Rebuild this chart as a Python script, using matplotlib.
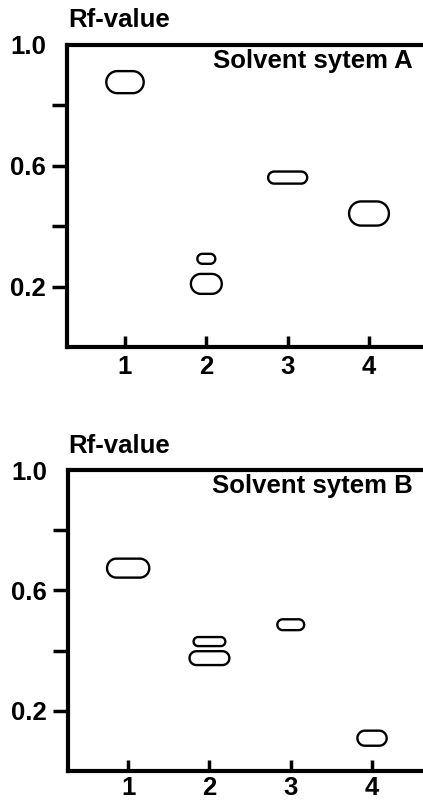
import matplotlib
matplotlib.use('Agg')
import numpy as np
import matplotlib.pyplot as plt
from matplotlib.patches import Polygon

plt.rcParams['font.family'] = ['Liberation Sans', 'DejaVu Sans']
plt.rcParams['font.weight'] = 'bold'

# lane number, Rf value, spot width (lane units), spot height (Rf units)
lanes_a = [1, 2, 2, 3, 4]
rf_a = [0.877, 0.292, 0.209, 0.561, 0.442]
spot_w_a = [0.46, 0.22, 0.38, 0.48, 0.49]
spot_h_a = [0.073, 0.033, 0.066, 0.040, 0.080]

lanes_b = [1, 2, 2, 3, 4]
rf_b = [0.674, 0.430, 0.375, 0.486, 0.109]
spot_w_b = [0.52, 0.39, 0.49, 0.33, 0.36]
spot_h_b = [0.063, 0.030, 0.046, 0.036, 0.050]

x_ticks = [1, 2, 3, 4]
y_ticks = [0.2, 0.4, 0.6, 0.8, 1.0]
y_labels = ['0.2', '', '0.6', '', '1.0']

W, H = 423, 802
FS = 18.5


def stadium(x, y, w, h, aspect):
    # outline of a spot: straight sides with half-round ends
    ry = h / 2
    rx = ry / aspect
    t = np.linspace(-np.pi / 2, np.pi / 2, 40)
    right = np.column_stack([x + w / 2 - rx + rx * np.cos(t), y + ry * np.sin(t)])
    left = np.column_stack([x - w / 2 + rx - rx * np.cos(t), y - ry * np.sin(t)])
    return np.vstack([right, left])


def panel(rect, lanes, rf, spot_w, spot_h, xlim, title, title_pos, label_pos, xpad):
    fig = plt.gcf()
    ax = fig.add_axes(rect)
    ax.set_xlim(*xlim)
    ax.set_ylim(0, 1)
    ax.spines['right'].set_visible(False)
    for s in ['left', 'bottom', 'top']:
        ax.spines[s].set_linewidth(3)

    ax.set_xticks(x_ticks)
    ax.set_xticklabels([str(x) for x in x_ticks], fontsize=FS, fontweight='bold')
    ax.set_yticks(y_ticks)
    ax.set_yticklabels(y_labels, fontsize=FS, fontweight='bold')
    ax.tick_params(axis='x', direction='in', length=8, width=2.5, pad=xpad)
    ax.tick_params(axis='y', direction='out', length=11, width=2.5, pad=4)
    ax.yaxis.get_major_ticks()[-1].tick1line.set_visible(False)

    # pixels per lane unit vs pixels per Rf unit
    px_x = rect[2] * W / (xlim[1] - xlim[0])
    px_y = rect[3] * H / 1.0
    aspect = px_x / px_y
    for x, y, w, h in zip(lanes, rf, spot_w, spot_h):
        ax.add_patch(Polygon(stadium(x, y, w, h, aspect), closed=True,
                             fill=False, ec='black', lw=1.7))

    fig.text(title_pos[0] / W, 1 - title_pos[1] / H, title, ha='right', va='baseline',
             fontsize=FS, fontweight='bold')
    fig.text(label_pos[0] / W, 1 - label_pos[1] / H, 'Rf-value', ha='left', va='baseline',
             fontsize=FS, fontweight='bold')
    return ax


fig = plt.figure(figsize=(W / 100, H / 100), dpi=100)

panel([67 / W, 1 - 347 / H, 363 / W, 302 / H], lanes_a, rf_a, spot_w_a, spot_h_a,
      (0.287, 4.75), 'Solvent sytem A', (413, 68), (68, 27), 6)
panel([68 / W, 1 - 771 / H, 365 / W, 301 / H], lanes_b, rf_b, spot_w_b, spot_h_b,
      (0.26, 4.75), 'Solvent sytem B', (413, 493), (68, 453), 3.5)

fig.savefig('out.png', dpi=100)
